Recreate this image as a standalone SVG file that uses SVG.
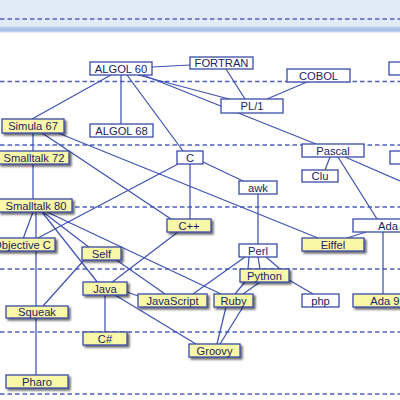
<svg xmlns="http://www.w3.org/2000/svg" width="400" height="400" viewBox="0 0 400 400">
<defs>
<linearGradient id="band" x1="0" y1="0" x2="0" y2="1">
<stop offset="0" stop-color="#c3d5ee"/>
<stop offset="0.5" stop-color="#a2bde3"/>
<stop offset="1" stop-color="#c8d8ef"/>
</linearGradient>
<filter id="sh" x="-20%" y="-30%" width="150%" height="180%">
<feGaussianBlur in="SourceAlpha" stdDeviation="1.2"/>
<feOffset dx="1.5" dy="2" result="b"/>
<feComponentTransfer><feFuncA type="linear" slope="0.6"/></feComponentTransfer>
<feMerge><feMergeNode/><feMergeNode in="SourceGraphic"/></feMerge>
</filter>
</defs>
<style>
.dash{stroke:#4d60bf;stroke-width:1.3;stroke-dasharray:4.5 3;fill:none}
.e{stroke:#4153b3;stroke-width:1.25;fill:none}
.w{fill:#ffffff;stroke:#3a4aa8;stroke-width:1.3}
.y{fill:#f8f8a8;stroke:#3a4aa8;stroke-width:1.3;filter:url(#sh)}
text{font-family:"Liberation Sans",Arial,sans-serif;font-size:11.2px;fill:#1a2362;text-anchor:middle}
</style>
<rect x="0" y="0" width="400" height="28" fill="#e1ebf7"/>
<rect x="0" y="26.5" width="400" height="6" fill="url(#band)"/>
<g id="guides">
<line class="dash" x1="0" y1="19" x2="400" y2="19"/>
<line class="dash" x1="0" y1="81.5" x2="400" y2="81.5"/>
<line class="dash" x1="0" y1="145" x2="400" y2="145"/>
<line class="dash" x1="0" y1="207" x2="400" y2="207"/>
<line class="dash" x1="0" y1="269" x2="400" y2="269"/>
<line class="dash" x1="0" y1="332" x2="400" y2="332"/>
<line class="dash" x1="0" y1="394" x2="400" y2="394"/>
</g>
<g id="connectors">
<line class="e" x1="152" y1="67" x2="190" y2="65"/>
<line class="e" x1="111" y1="75" x2="32" y2="119"/>
<line class="e" x1="121" y1="75" x2="121" y2="124"/>
<line class="e" x1="127" y1="75" x2="183" y2="151"/>
<line class="e" x1="138" y1="75" x2="229" y2="99"/>
<line class="e" x1="143" y1="75" x2="316" y2="144"/>
<line class="e" x1="226" y1="69" x2="245" y2="99"/>
<line class="e" x1="307" y1="82" x2="267" y2="99"/>
<line class="e" x1="330" y1="157" x2="325" y2="170"/>
<line class="e" x1="338" y1="157" x2="377" y2="219"/>
<line class="e" x1="345" y1="157" x2="400" y2="181"/>
<line class="e" x1="366" y1="232" x2="347" y2="238"/>
<line class="e" x1="383" y1="232" x2="383" y2="295"/>
<line class="e" x1="203" y1="162" x2="243" y2="181"/>
<line class="e" x1="190" y1="164" x2="190" y2="219"/>
<line class="e" x1="178" y1="164" x2="36" y2="239"/>
<line class="e" x1="258" y1="194" x2="258" y2="244"/>
<line class="e" x1="33" y1="133" x2="33" y2="151"/>
<line class="e" x1="42" y1="133" x2="171" y2="219"/>
<line class="e" x1="58" y1="133" x2="318" y2="238"/>
<line class="e" x1="33" y1="164" x2="33" y2="200"/>
<line class="e" x1="33" y1="212" x2="23" y2="239"/>
<line class="e" x1="36" y1="212" x2="36" y2="306"/>
<line class="e" x1="42" y1="212" x2="98" y2="283"/>
<line class="e" x1="43" y1="212" x2="90" y2="248"/>
<line class="e" x1="47" y1="212" x2="221" y2="294"/>
<line class="e" x1="85" y1="259" x2="43" y2="306"/>
<line class="e" x1="115" y1="259" x2="165" y2="294"/>
<line class="e" x1="178" y1="232" x2="111" y2="283"/>
<line class="e" x1="105" y1="295" x2="105" y2="332"/>
<line class="e" x1="127" y1="292" x2="138" y2="296"/>
<line class="e" x1="115" y1="295" x2="196" y2="344"/>
<line class="e" x1="36" y1="318" x2="36" y2="375"/>
<line class="e" x1="245" y1="257" x2="193" y2="294"/>
<line class="e" x1="249" y1="257" x2="248" y2="269"/>
<line class="e" x1="258" y1="257" x2="260" y2="269"/>
<line class="e" x1="266" y1="257" x2="280" y2="269"/>
<line class="e" x1="245" y1="282" x2="235" y2="294"/>
<line class="e" x1="260" y1="282" x2="243" y2="294"/>
<line class="e" x1="289" y1="280" x2="313" y2="294"/>
<line class="e" x1="226" y1="307" x2="217" y2="344"/>
<line class="e" x1="243" y1="307" x2="220" y2="344"/>
</g>
<g id="n-algol60"><rect class="w" x="90" y="62" width="62" height="13"/><text x="121" y="72.5">ALGOL 60</text></g>
<g id="n-fortran"><rect class="w" x="190" y="57" width="63" height="12"/><text x="221.5" y="67">FORTRAN</text></g>
<g id="n-cobol"><rect class="w" x="287" y="69" width="63" height="13"/><text x="318.5" y="79.5">COBOL</text></g>
<g id="n-right1"><rect class="w" x="389" y="62" width="30" height="13"/></g>
<g id="n-pl1"><rect class="w" x="221" y="99" width="62" height="14"/><text x="252" y="110">PL/1</text></g>
<g id="n-algol68"><rect class="w" x="90" y="124" width="63" height="13"/><text x="121.5" y="134.5">ALGOL 68</text></g>
<g id="n-simula67"><rect class="y" x="2" y="119" width="62" height="14"/><text x="33" y="130">Simula 67</text></g>
<g id="n-c"><rect class="w" x="177" y="151" width="26" height="13"/><text x="190" y="161.5">C</text></g>
<g id="n-pascal"><rect class="w" x="302" y="144" width="62" height="13"/><text x="333" y="154.5">Pascal</text></g>
<g id="n-right2"><rect class="w" x="390" y="151" width="30" height="13"/></g>
<g id="n-clu"><rect class="w" x="302" y="170" width="36" height="12"/><text x="320" y="180">Clu</text></g>
<g id="n-awk"><rect class="w" x="239" y="181" width="38" height="13"/><text x="258" y="191.5">awk</text></g>
<g id="n-smalltalk72"><rect class="y" x="-1" y="151" width="70" height="13"/><text x="34" y="161.5">Smalltalk 72</text></g>
<g id="n-smalltalk80"><rect class="y" x="-1" y="199" width="73" height="13"/><text x="36" y="209.5">Smalltalk 80</text></g>
<g id="n-cpp"><rect class="y" x="167" y="219" width="44" height="13"/><text x="189" y="229.5">C++</text></g>
<g id="n-ada"><rect class="w" x="353" y="219" width="62" height="13"/><text x="388" y="229.5">Ada</text></g>
<g id="n-eiffel"><rect class="y" x="302" y="238" width="62" height="13"/><text x="333" y="248.5">Eiffel</text></g>
<g id="n-objc"><rect class="y" x="-12" y="238" width="67" height="13"/><text x="22" y="248.5">Objective C</text></g>
<g id="n-self"><rect class="y" x="82" y="247" width="39" height="13"/><text x="101.5" y="257.5">Self</text></g>
<g id="n-perl"><rect class="w" x="239" y="244" width="38" height="13"/><text x="258" y="254.5">Perl</text></g>
<g id="n-python"><rect class="y" x="240" y="269" width="49" height="13"/><text x="264.5" y="279.5">Python</text></g>
<g id="n-java"><rect class="y" x="83" y="282" width="44" height="13"/><text x="105" y="292.5">Java</text></g>
<g id="n-javascript"><rect class="y" x="138" y="294" width="69" height="13"/><text x="172.5" y="304.5">JavaScript</text></g>
<g id="n-ruby"><rect class="y" x="214" y="294" width="39" height="13"/><text x="233.5" y="304.5">Ruby</text></g>
<g id="n-php"><rect class="w" x="302" y="294" width="37" height="13"/><text x="320.5" y="304.5">php</text></g>
<g id="n-ada95"><rect class="y" x="353" y="294" width="62" height="13"/><text x="388" y="304.5">Ada 95</text></g>
<g id="n-squeak"><rect class="y" x="6" y="306" width="62" height="12"/><text x="37" y="316">Squeak</text></g>
<g id="n-csharp"><rect class="y" x="83" y="332" width="44" height="13"/><text x="105" y="342.5">C#</text></g>
<g id="n-groovy"><rect class="y" x="189" y="344" width="51" height="13"/><text x="214.5" y="354.5">Groovy</text></g>
<g id="n-pharo"><rect class="y" x="6" y="375" width="62" height="13"/><text x="37" y="385.5">Pharo</text></g>
</svg>
